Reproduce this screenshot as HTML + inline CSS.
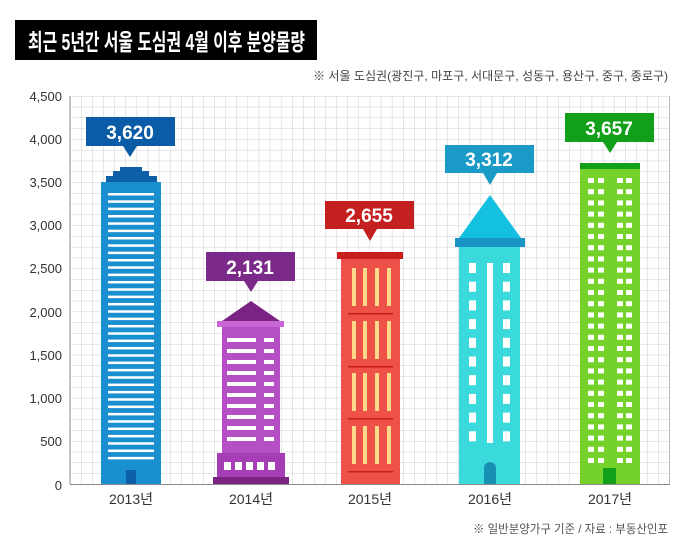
<!DOCTYPE html>
<html><head><meta charset="utf-8"><style>
body{margin:0;background:#fff}
svg{display:block}
text{font-family:"Liberation Sans","Noto Sans CJK KR",sans-serif}
</style></head><body>
<svg width="700" height="550" viewBox="0 0 700 550" xmlns="http://www.w3.org/2000/svg">
<defs>
<pattern id="g" x="70" y="96" width="11.1" height="10.78" patternUnits="userSpaceOnUse">
<path d="M0 0H11.1M0 0V10.78" stroke="#cfcfcf" stroke-width="1" fill="none"/>
</pattern>
</defs>
<rect x="15" y="20" width="302" height="40" fill="#000"/>
<text x="28" y="50" font-size="23" font-weight="bold" fill="#fff" textLength="277" lengthAdjust="spacingAndGlyphs">최근 5년간 서울 도심권 4월 이후 분양물량</text>
<text x="668" y="80" font-size="12" fill="#444" text-anchor="end" textLength="355" lengthAdjust="spacingAndGlyphs">※ 서울 도심권(광진구, 마포구, 서대문구, 성동구, 용산구, 중구, 종로구)</text>
<rect x="70" y="96" width="600" height="388" fill="url(#g)"/>
<line x1="669.5" y1="96" x2="669.5" y2="484" stroke="#bbb"/>
<line x1="70" y1="96" x2="70" y2="484" stroke="#888"/>
<line x1="70" y1="484.5" x2="670" y2="484.5" stroke="#888"/>
<g font-size="13" fill="#333" text-anchor="end">
<text x="62" y="101">4,500</text><text x="62" y="144">4,000</text><text x="62" y="187">3,500</text>
<text x="62" y="230">3,000</text><text x="62" y="273">2,500</text><text x="62" y="317">2,000</text>
<text x="62" y="360">1,500</text><text x="62" y="403">1,000</text><text x="62" y="446">500</text><text x="62" y="490">0</text>
</g>
<rect x="120" y="167" width="22" height="6" fill="#0d5fa8"/>
<rect x="113" y="171" width="36" height="6" fill="#0d5fa8"/>
<rect x="106" y="176" width="51" height="7" fill="#0d5fa8"/>
<rect x="101" y="182" width="60" height="302" fill="#1a8fd0"/>
<g id="s13" fill="#fff"></g>
<rect x="126" y="470" width="10" height="14" fill="#0d5fa8"/>
<polygon points="251,301 222,321 280,321" fill="#7b2383"/>
<rect x="217" y="321" width="67" height="6" fill="#c966d6"/>
<rect x="222" y="327" width="58" height="126" fill="#b44fc4"/>
<rect x="217" y="453" width="68" height="24" fill="#a53db5"/>
<rect x="213" y="477" width="76" height="7" fill="#7b2383"/>
<g id="w14" fill="#fff"></g>
<rect x="337" y="252" width="66" height="7" fill="#c81e1e"/>
<rect x="341" y="259" width="59" height="225" fill="#ee5147"/>
<g id="w15"></g>
<polygon points="490,195 459,238 521,238" fill="#13c0e0"/>
<rect x="455" y="238" width="70" height="9" fill="#1a94c4"/>
<rect x="459" y="247" width="61" height="237" fill="#3ad9dc"/>
<rect x="487" y="263" width="6" height="180" fill="#fff"/>
<g id="w16" fill="#fff"></g>
<path d="M484 484V468a6 6 0 0 1 12 0V484Z" fill="#1a8fb4"/>
<rect x="580" y="163" width="60" height="6" fill="#12a01a"/>
<rect x="580" y="169" width="60" height="315" fill="#74d22a"/>
<g id="w17" fill="#fff"></g>
<rect x="603" y="468" width="13" height="16" fill="#12a01a"/>
<g font-size="19" font-weight="bold" fill="#fff" text-anchor="middle">
<rect x="86" y="117" width="89" height="29" fill="#0b5ca6"/><polygon points="123,146 137,146 130,157" fill="#0b5ca6"/><text x="130" y="139">3,620</text>
<rect x="206" y="252" width="89" height="29" fill="#7b2a8a"/><polygon points="244,281 258,281 251,292" fill="#7b2a8a"/><text x="250" y="274">2,131</text>
<rect x="325" y="201" width="89" height="28" fill="#c42020"/><polygon points="363,229 377,229 370,241" fill="#c42020"/><text x="369" y="222">2,655</text>
<rect x="445" y="145" width="89" height="28" fill="#1a9ac6"/><polygon points="483,173 497,173 490,185" fill="#1a9ac6"/><text x="489" y="166">3,312</text>
<rect x="565" y="113" width="89" height="29" fill="#12a01a"/><polygon points="603,142 617,142 610,153" fill="#12a01a"/><text x="609" y="135">3,657</text>
</g>
<g font-size="14" fill="#333" text-anchor="middle">
<text x="131" y="504">2013년</text><text x="251" y="504">2014년</text><text x="370" y="504">2015년</text><text x="490" y="504">2016년</text><text x="610" y="504">2017년</text>
</g>
<text x="668" y="533" font-size="12" fill="#555" text-anchor="end" textLength="195" lengthAdjust="spacingAndGlyphs">※ 일반분양가구 기준 / 자료 : 부동산인포</text>
</svg>
<script>
var NS="http://www.w3.org/2000/svg";
function r(g,x,y,w,h,f){var e=document.createElementNS(NS,"rect");e.setAttribute("x",x);e.setAttribute("y",y);e.setAttribute("width",w);e.setAttribute("height",h);if(f)e.setAttribute("fill",f);document.getElementById(g).appendChild(e);}
for(var y=193;y<=458;y+=7.33)r("s13",108,y,46,2.5);
for(var i=0;i<10;i++){var y=338+i*11;r("w14",227,y,29,4);r("w14",264,y,10,4);}
for(var i=0;i<5;i++)r("w14",224+i*11,462,7,8);
[268,321,373,426].forEach(function(y){[352,363,375,387].forEach(function(x){r("w15",x,y,4,38,"#ffd98a");});});
[313,366,418,471].forEach(function(y){r("w15",348,y,45,1.5,"#c81e1e");});
for(var i=0;i<10;i++){var y=263+i*18.7;r("w16",469,y,7,10);r("w16",503,y,7,10);}
for(var i=0;i<26;i++){var y=178+i*11.2;[588,598,617,626].forEach(function(x){r("w17",x,y,6,5);});}
</script>
</body></html>
